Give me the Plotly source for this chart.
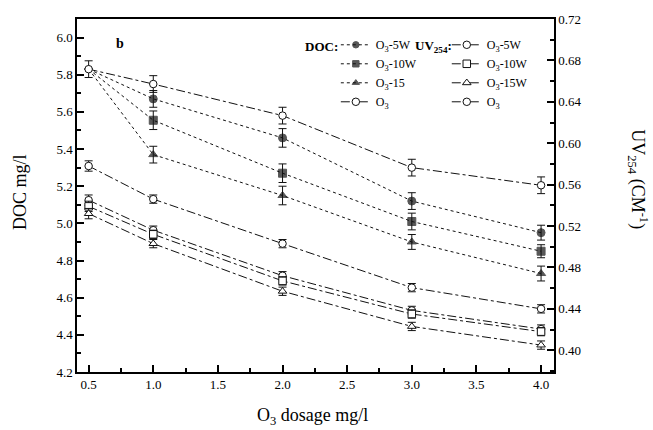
import plotly.graph_objects as go

dosage = [0.5, 1.0, 2.0, 3.0, 4.0]

# DOC (mg/l), left axis
doc_5w = [5.83, 5.67, 5.46, 5.12, 4.95]
doc_10w = [5.83, 5.555, 5.27, 5.01, 4.85]
doc_15 = [5.83, 5.37, 5.15, 4.90, 4.73]
doc_o3 = [5.83, 5.75, 5.58, 5.30, 5.205]
doc_5w_err = [0.0, 0.045, 0.05, 0.045, 0.04]
doc_10w_err = [0.0, 0.05, 0.05, 0.045, 0.035]
doc_15_err = [0.0, 0.045, 0.05, 0.04, 0.04]
doc_o3_err = [0.045, 0.045, 0.045, 0.045, 0.045]

# UV254 (cm-1), right axis
uv_5w = [0.545, 0.516, 0.472, 0.4385, 0.4205]
uv_10w = [0.539, 0.512, 0.467, 0.435, 0.418]
uv_15w = [0.532, 0.503, 0.457, 0.423, 0.405]
uv_o3 = [0.578, 0.546, 0.503, 0.4605, 0.440]
uv_err = [0.005, 0.004, 0.004, 0.004, 0.004]

FONT = "Liberation Serif"
INK = "#111"

fig = go.Figure()

def add(y, err, name, symbol, fill, dash, yaxis, legend, sizes=None):
    fig.add_trace(go.Scatter(
        x=dosage, y=y, name=name, mode="lines+markers",
        yaxis=yaxis, legend=legend,
        line=dict(color=INK, width=1, dash=dash),
        marker=dict(symbol=symbol, size=sizes if sizes else 7.5, color=fill,
                    line=dict(color=INK, width=1)),
        error_y=dict(type="data", array=err, visible=True, color=INK,
                     thickness=1, width=4),
    ))

hide_first = [0, 8, 8, 8, 8]
# UV traces (drawn first, underneath)
add(uv_5w, uv_err, "O<sub>3</sub>-5W", "circle", "white", "dashdot", "y2", "legend2")
add(uv_10w, uv_err, "O<sub>3</sub>-10W", "square", "white", "dashdot", "y2", "legend2")
add(uv_15w, uv_err, "O<sub>3</sub>-15W", "triangle-up", "white", "dashdot", "y2", "legend2")
add(uv_o3, uv_err, "O<sub>3</sub>", "circle", "white", "dashdot", "y2", "legend2")
# DOC traces
add(doc_5w, doc_5w_err, "O<sub>3</sub>-5W", "circle", INK, "dot", "y", "legend", hide_first)
add(doc_10w, doc_10w_err, "O<sub>3</sub>-10W", "square", INK, "dot", "y", "legend", hide_first)
add(doc_15, doc_15_err, "O<sub>3</sub>-15", "triangle-up", INK, "dot", "y", "legend", hide_first)
add(doc_o3, doc_o3_err, "O<sub>3</sub>", "circle", "white", "dashdot", "y", "legend")

axis_common = dict(
    showgrid=False, zeroline=False, showline=True, linecolor="black", linewidth=1.5,
    ticks="inside", ticklen=7, tickwidth=1.5, tickcolor="black",
    tickfont=dict(family=FONT, size=13, color="black"),
)

legend_common = dict(yanchor="top", xanchor="left", y=0.968,
                     bgcolor="rgba(0,0,0,0)", font=dict(family=FONT, size=12, color="black"),
                     itemwidth=30, tracegroupgap=0, borderwidth=0)

fig.update_layout(
    width=653, height=430,
    margin=dict(l=77, r=99, t=15, b=58),
    paper_bgcolor="white", plot_bgcolor="white",
    font=dict(family=FONT, size=13, color="black"),
    xaxis=dict(range=[0.41, 4.1], dtick=0.5, tick0=0.5, tickformat=".1f", mirror=True,
               minor=dict(dtick=0.25, ticks="inside", ticklen=4, tickcolor="black"),
               **axis_common),
    yaxis=dict(range=[4.2, 6.1], dtick=0.2, tick0=4.2, tickformat=".1f",
               minor=dict(dtick=0.1, ticks="inside", ticklen=4, tickcolor="black"),
               **axis_common),
    yaxis2=dict(range=[0.379, 0.72], dtick=0.04, tick0=0.40, tickformat=".2f",
                overlaying="y", side="right",
                minor=dict(dtick=0.02, ticks="inside", ticklen=4, tickcolor="black"),
                **axis_common),
    legend=dict(x=(336 - 77) / 477.3, **legend_common),
    legend2=dict(x=(447 - 77) / 477.3, **legend_common),
    showlegend=True,
    annotations=[
        dict(text="<b>b</b>", x=(120 - 77) / 477.3, y=0.931, xref="paper", yref="paper",
             xanchor="center", yanchor="middle", showarrow=False, font=dict(family=FONT, size=14)),
        dict(text="<b>DOC:</b>", x=(322 - 77) / 477.3, y=0.922, xref="paper", yref="paper",
             xanchor="center", yanchor="middle", showarrow=False, font=dict(family=FONT, size=13)),
        dict(text="<b>UV<sub>254</sub>:</b>", x=(434 - 77) / 477.3, y=0.922, xref="paper", yref="paper",
             xanchor="center", yanchor="middle", showarrow=False, font=dict(family=FONT, size=13)),
        dict(text="DOC mg/l", x=(20 - 77) / 477.3, y=0.51, xref="paper", yref="paper",
             xanchor="center", yanchor="middle",
             textangle=-90, showarrow=False, font=dict(family=FONT, size=18)),
        dict(text="UV<sub>254</sub> (CM<sup>-1</sup>)", x=(638 - 77) / 477.3, y=0.547, xref="paper", yref="paper",
             xanchor="center", yanchor="middle",
             textangle=90, showarrow=False, font=dict(family=FONT, size=18)),
        dict(text="O<sub>3</sub> dosage mg/l", x=0.494, y=-0.126, xref="paper", yref="paper",
             xanchor="center", yanchor="middle", showarrow=False, font=dict(family=FONT, size=18)),
    ],
)

fig.write_html("out.html")
